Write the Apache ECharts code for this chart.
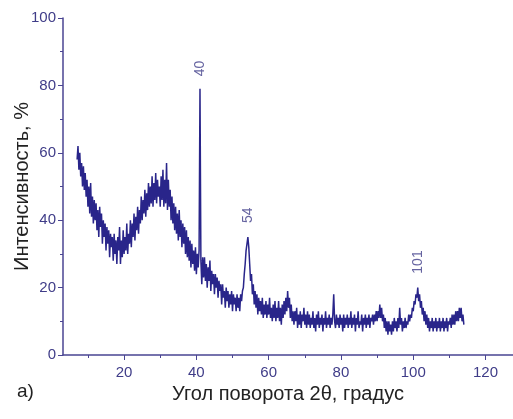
<!DOCTYPE html>
<html>
<head>
<meta charset="utf-8">
<script src="https://cdn.jsdelivr.net/npm/echarts@6/dist/echarts.min.js"></script>
<style>
  html, body { margin: 0; padding: 0; background: #fff; }
  #chart { width: 513px; height: 419px; }
</style>
</head>
<body>
<div id="chart"></div>
<script>
// XRD pattern: start angle, step, intensity (%)
const angleStart = 7
const angleStep = 0.25
const intensity = [
  58, 62, 55, 60, 53, 57, 50, 56, 49, 54, 47, 52, 44, 50, 42, 51, 41, 47, 39, 46,
  40, 45, 37, 43, 35, 44, 38, 42, 33, 40, 35, 39, 31, 38, 33, 37, 29, 36, 32, 35,
  28, 36, 30, 34, 27, 35, 31, 38, 27, 34, 29, 37, 30, 35, 31, 39, 30, 36, 33, 40,
  32, 39, 35, 42, 34, 41, 37, 44, 36, 43, 39, 47, 40, 46, 42, 49, 41, 48, 43, 51,
  44, 50, 45, 53, 44, 51, 46, 54, 45, 52, 47, 50, 44, 53, 46, 55, 44, 52, 45, 57,
  43, 52, 44, 49, 40, 47, 39, 45, 37, 44, 36, 42, 34, 43, 35, 40, 32, 39, 33, 38,
  30, 37, 29, 35, 28, 34, 26, 33, 27, 31, 25, 32, 24, 30, 26, 31, 79, 28, 21, 29,
  23, 29, 22, 27, 20, 26, 22, 28, 19, 25, 21, 24, 18, 24, 20, 23, 17, 22, 19, 21,
  15, 21, 17, 19, 14, 20, 16, 19, 14, 18, 15, 19, 13, 18, 15, 17, 13, 18, 14, 17,
  13, 18, 16, 19, 20, 24, 27, 31, 33, 35, 32, 27, 22, 24, 18, 21, 15, 19, 14, 18,
  12, 17, 13, 16, 12, 17, 11, 15, 12, 16, 11, 15, 12, 17, 11, 14, 10, 15, 11, 16,
  10, 14, 11, 16, 10, 14, 9, 15, 11, 16, 12, 17, 13, 19, 14, 17, 11, 15, 10, 13,
  9, 13, 10, 14, 8, 12, 9, 13, 8, 12, 10, 14, 9, 12, 8, 13, 9, 12, 8, 11,
  9, 13, 8, 11, 7, 12, 9, 13, 8, 11, 9, 12, 7, 11, 9, 13, 8, 11, 9, 12,
  8, 11, 9, 12, 18, 10, 8, 12, 9, 11, 8, 12, 9, 11, 7, 12, 8, 11, 9, 12,
  8, 11, 9, 13, 8, 11, 9, 12, 7, 11, 9, 13, 8, 10, 9, 12, 7, 11, 9, 12,
  8, 11, 9, 12, 8, 11, 10, 12, 9, 12, 10, 13, 10, 13, 11, 15, 11, 14, 10, 12,
  8, 11, 7, 10, 6, 10, 7, 9, 6, 10, 7, 11, 8, 10, 7, 11, 8, 14, 9, 11,
  7, 10, 8, 11, 8, 10, 9, 12, 10, 12, 11, 14, 13, 16, 15, 18, 17, 20, 16, 18,
  14, 16, 12, 14, 10, 13, 9, 12, 8, 11, 7, 10, 8, 11, 7, 10, 8, 11, 7, 10,
  8, 11, 7, 10, 8, 11, 7, 10, 8, 11, 7, 10, 9, 11, 8, 12, 9, 12, 9, 13,
  10, 13, 10, 14, 11, 14, 10, 12, 9
]

// peak annotations
const peakNames = ['40', '54', '101']
const peakAngles = [41.1, 54.2, 101.3]
const peakLabelLevels = [85, 41.5, 27.6]

const xMajorTicks = [20, 40, 60, 80, 100, 120]
const xMinorTicks = [10, 30, 50, 70, 90, 110]

const axisColor = '#4a4592'
const labelColor = '#3f3c88'
const lineColor = '#29258a'

const points = intensity.map((v, i) => [angleStart + i * angleStep, v])
const peakPoints = peakNames.map((n, i) => [peakAngles[i], peakLabelLevels[i], n])

const chart = echarts.init(document.getElementById('chart'))

const option = {
  animation: false,
  backgroundColor: '#fff',
  grid: { left: 63, top: 18, right: 0, bottom: 64, outerBoundsMode: 'none' },
  xAxis: [
    {
      type: 'value',
      min: 3.1,
      max: 127.6,
      name: 'Угол поворота 2θ, градус',
      nameLocation: 'middle',
      nameGap: 26,
      nameTextStyle: { color: '#222', fontSize: 20, fontFamily: 'Liberation Sans, Arial' },
      axisLine: { show: true, lineStyle: { color: axisColor, width: 1.5 } },
      axisTick: { show: true, customValues: xMajorTicks, length: 5, lineStyle: { color: axisColor } },
      axisLabel: {
        customValues: xMajorTicks,
        margin: 10,
        color: labelColor,
        fontSize: 15,
        fontFamily: 'Liberation Sans, Arial'
      },
      splitLine: { show: false }
    },
    {
      type: 'value',
      min: 3.1,
      max: 127.6,
      position: 'bottom',
      axisLine: { show: false },
      axisTick: { show: true, customValues: xMinorTicks, length: 3, lineStyle: { color: axisColor } },
      axisLabel: { show: false },
      splitLine: { show: false }
    }
  ],
  yAxis: {
    type: 'value',
    min: 0,
    max: 100,
    interval: 20,
    name: 'Интенсивность, %',
    nameLocation: 'middle',
    nameGap: 31,
    nameMoveOverlap: false,
    nameRotate: 90,
    nameTextStyle: { color: '#222', fontSize: 20, fontFamily: 'Liberation Sans, Arial' },
    axisLine: { show: true, lineStyle: { color: axisColor, width: 1.5 } },
    axisTick: { show: true, length: 5, lineStyle: { color: axisColor } },
    minorTick: { show: true, splitNumber: 2, length: 3, lineStyle: { color: axisColor } },
    axisLabel: { margin: 7, color: labelColor, fontSize: 15, fontFamily: 'Liberation Sans, Arial' },
    splitLine: { show: false }
  },
  series: [
    {
      type: 'line',
      data: points,
      symbol: 'none',
      lineStyle: { color: lineColor, width: 1.5 },
      z: 3
    },
    {
      type: 'scatter',
      data: peakPoints,
      symbolSize: 0,
      silent: true,
      label: {
        show: true,
        position: 'inside',
        rotate: 90,
        formatter: p => p.value[2],
        color: labelColor,
        fontSize: 14,
        fontFamily: 'Liberation Sans, Arial'
      }
    }
  ],
  graphic: [
    {
      type: 'text',
      left: 17,
      top: 382,
      style: { text: 'а)', fill: '#222', fontSize: 19, fontFamily: 'Liberation Sans, Arial' }
    }
  ]
}

chart.setOption(option)
</script>
</body>
</html>
